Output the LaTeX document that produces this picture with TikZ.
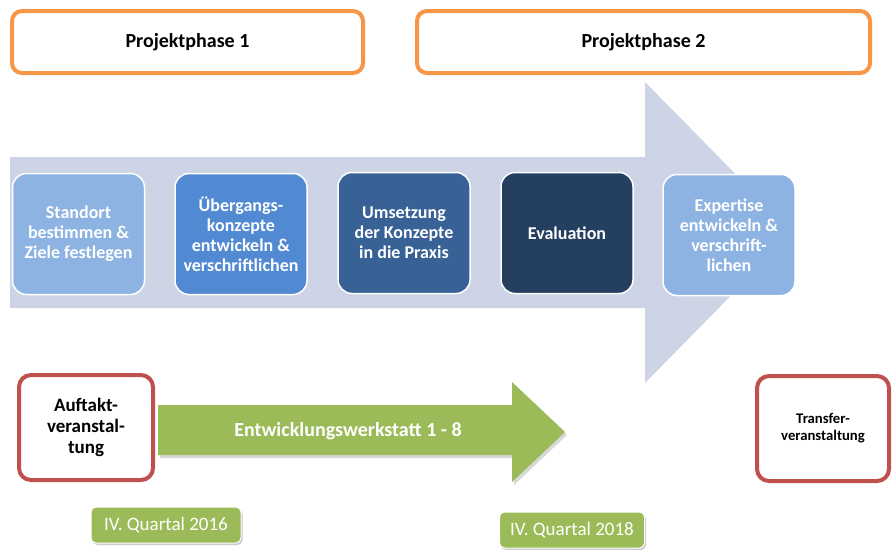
\documentclass[tikz,border=0pt]{standalone}
\usepackage{fontspec}
\setmainfont{Carlito}
\usetikzlibrary{shadows}
\definecolor{orangeB}{HTML}{F79646}
\definecolor{redB}{HTML}{C0504D}
\definecolor{greenB}{HTML}{9BBB59}
\definecolor{greyA}{HTML}{CDD4E5}
\definecolor{blueA}{HTML}{8DB3E2}
\definecolor{blueB}{HTML}{5189D3}
\definecolor{blueC}{HTML}{386195}
\definecolor{blueD}{HTML}{243F60}
\begin{document}
\begin{tikzpicture}[x=1pt,y=-1pt,
  phasebox/.style={draw=orangeB, line width=4pt, fill=white, rounded corners=10pt,
    minimum height=62pt, font=\fontsize{20}{23}\selectfont\bfseries, text=black},
  stepbox/.style={draw=white, line width=1.5pt, rounded corners=14pt,
    minimum width=132pt, minimum height=121pt, align=center, text=white,
    font=\fontsize{18}{20}\selectfont\bfseries, inner sep=2pt},
  eventbox/.style={draw=redB, line width=4pt, fill=white, rounded corners=12pt,
    align=center, text=black},
  datebox/.style={fill=greenB, draw=white, line width=1pt, rounded corners=5pt,
    text=white, font=\fontsize{19}{22}\selectfont,
    drop shadow={shadow xshift=1.5pt, shadow yshift=-2pt, fill=black!40, opacity=0.5}},
]
\useasboundingbox (0,0) rectangle (893,549);
\fill[white] (0,0) rectangle (893,549);

% phase boxes
\node[phasebox, minimum width=351pt] (p1) at (187.5,42) {Projektphase 1};
\node[phasebox, minimum width=453pt] (p2) at (643.5,42) {Projektphase 2};

% big grey process arrow
\fill[greyA] (10,157) -- (645,157) -- (645,82) -- (793,232.5) -- (645,383)
  -- (645,308) -- (10,308) -- cycle;

% steps
\node[stepbox, fill=blueA] (s1) at (78.5,234) {Standort\\bestimmen \&\\Ziele festlegen};
\node[stepbox, fill=blueB] (s2) at (241,234) {Übergangs-\\konzepte\\entwickeln \&\\verschriftlichen};
\node[stepbox, fill=blueC] (s3) at (404,233) {Umsetzung\\der Konzepte\\in die Praxis};
\node[stepbox, fill=blueD] (s4) at (567,233) {Evaluation};
\node[stepbox, fill=blueA] (s5) at (729,235) {Expertise\\entwickeln \&\\verschrift-\\lichen};

% green arrow
\fill[black!30, opacity=0.5] (160,408) -- (514,408) -- (514,385) -- (567,435)
  -- (514,485) -- (514,458) -- (160,458) -- cycle;
\fill[greenB] (158,405) -- (512,405) -- (512,382) -- (565,432) -- (512,482)
  -- (512,455) -- (158,455) -- cycle;
\node[text=white, font=\fontsize{20}{23}\selectfont\bfseries] (ew) at (348,431)
  {Entwicklungswerkstatt 1 - 8};

% events
\node[eventbox, minimum width=134pt, minimum height=105pt,
  font=\fontsize{19}{21}\selectfont\bfseries] (auf) at (86,427.5)
  {Auftakt-\\veranstal-\\tung};
\node[eventbox, minimum width=132pt, minimum height=105pt,
  font=\fontsize{14.7}{17}\selectfont\bfseries] (tra) at (823,428.5)
  {Transfer-\\veranstaltung};

% dates
\node[datebox, minimum width=150pt, minimum height=36pt] (d1) at (166,525) {IV. Quartal 2016};
\node[datebox, minimum width=145pt, minimum height=36pt] (d2) at (572,530) {IV. Quartal 2018};
\end{tikzpicture}
\end{document}
